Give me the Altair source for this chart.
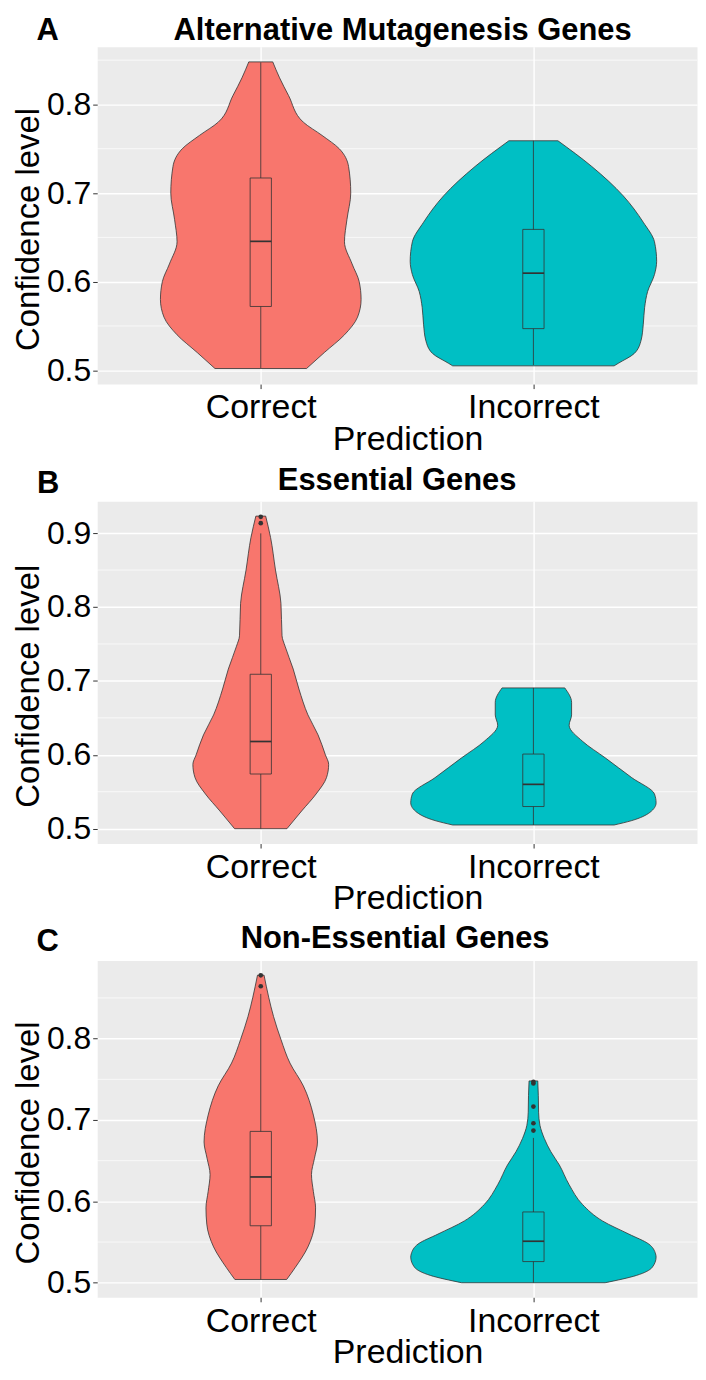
import altair as alt
import pandas as pd

# ---------------- data ----------------
CATEGORIES = ["Correct", "Incorrect"]
POSITIONS = [1, 2]
FILL_COLORS = ["#F8766D", "#00BFC4"]
LINE_COLOR = "#333333"

PANEL_LETTERS = ["A", "B", "C"]
PANEL_TITLES = ["Alternative Mutagenesis Genes", "Essential Genes", "Non-Essential Genes"]
Y_TITLE = "Confidence level"
X_TITLE = "Prediction"

Y_DOMAINS = [[0.4844, 0.865], [0.4799, 0.9432], [0.4821, 0.8960]]
Y_MAJOR = [[0.5, 0.6, 0.7, 0.8], [0.5, 0.6, 0.7, 0.8, 0.9], [0.5, 0.6, 0.7, 0.8]]
Y_MINOR = [[0.55, 0.65, 0.75, 0.85], [0.55, 0.65, 0.75, 0.85], [0.55, 0.65, 0.75, 0.85]]

# violin outlines: confidence level and half-width (in category units)
A_COR_CONF = [0.502, 0.520, 0.540, 0.560, 0.580, 0.600, 0.620, 0.645, 0.670, 0.700, 0.730, 0.750, 0.765, 0.780, 0.810, 0.830, 0.848]
A_COR_HW = [0.168, 0.233, 0.307, 0.355, 0.368, 0.361, 0.335, 0.307, 0.316, 0.330, 0.322, 0.288, 0.225, 0.156, 0.102, 0.069, 0.044]
A_INC_CONF = [0.505, 0.508, 0.519, 0.534, 0.552, 0.571, 0.589, 0.608, 0.623, 0.645, 0.667, 0.697, 0.730, 0.759]
A_INC_HW = [0.296, 0.312, 0.370, 0.395, 0.403, 0.408, 0.419, 0.444, 0.452, 0.444, 0.403, 0.329, 0.214, 0.090]

B_COR_CONF = [0.500, 0.524, 0.547, 0.569, 0.587, 0.600, 0.627, 0.654, 0.689, 0.716, 0.747, 0.761, 0.805, 0.850, 0.894, 0.923]
B_COR_HW = [0.096, 0.150, 0.203, 0.241, 0.249, 0.237, 0.210, 0.173, 0.140, 0.119, 0.089, 0.078, 0.074, 0.054, 0.036, 0.018]
B_INC_CONF = [0.505, 0.511, 0.522, 0.535, 0.547, 0.569, 0.596, 0.618, 0.640, 0.654, 0.671, 0.6905]
B_INC_HW = [0.296, 0.361, 0.427, 0.450, 0.444, 0.361, 0.263, 0.181, 0.131, 0.140, 0.140, 0.115]

C_COR_CONF = [0.504, 0.519, 0.544, 0.572, 0.592, 0.612, 0.633, 0.653, 0.673, 0.706, 0.742, 0.770, 0.799, 0.827, 0.851, 0.878]
C_COR_HW = [0.095, 0.127, 0.173, 0.198, 0.201, 0.193, 0.186, 0.197, 0.208, 0.193, 0.156, 0.107, 0.074, 0.047, 0.029, 0.012]
C_INC_CONF = [0.500, 0.509, 0.519, 0.5315, 0.5355, 0.5476, 0.5598, 0.576, 0.5962, 0.6205, 0.6448, 0.661, 0.6773, 0.6934, 0.7096, 0.7299, 0.748]
C_INC_HW = [0.263, 0.378, 0.436, 0.450, 0.448, 0.423, 0.350, 0.253, 0.180, 0.131, 0.095, 0.064, 0.040, 0.024, 0.019, 0.018, 0.016]

# box plot statistics per panel: [Correct, Incorrect]
Q1 = [[0.572, 0.547], [0.574, 0.530], [0.570, 0.526]]
MEDIAN = [[0.6455, 0.6096], [0.618, 0.560], [0.630, 0.551]]
Q3 = [[0.717, 0.659], [0.709, 0.601], [0.686, 0.587]]
WHISK_LO = [[0.5026, 0.5059], [0.500, 0.505], [0.504, 0.500]]
WHISK_HI = [[0.8475, 0.759], [0.8996, 0.6905], [0.855, 0.678]]
OUTLIERS = [
    [[], []],
    [[0.9135, 0.922], []],
    [[0.8644, 0.8778], [0.687, 0.696, 0.7165, 0.745, 0.747]],
]

VIOLINS = [
    [(A_COR_CONF, A_COR_HW), (A_INC_CONF, A_INC_HW)],
    [(B_COR_CONF, B_COR_HW), (B_INC_CONF, B_INC_HW)],
    [(C_COR_CONF, C_COR_HW), (C_INC_CONF, C_INC_HW)],
]

# ---------------- layout (styles, not data) ----------------
FONT = "Liberation Sans"
PLOT_W = 602
PLOT_H = [338.5, 343.6, 338.0]
SPACING = 117
BOX_HW = 0.039
TITLE_DX = [306.5, 301, 299]
TITLE_DY = [-7, -11.5, -13]
LETTER_DX = [-61, -60.3, -61]
LETTER_DY = [-7, -8.4, -10]

label_expr = " : ".join(
    f"datum.value == {p} ? '{c}'" for p, c in zip(POSITIONS[:-1], CATEGORIES[:-1])
) + f" : '{CATEGORIES[-1]}'"

color_scale = alt.Scale(domain=CATEGORIES, range=FILL_COLORS)
x_scale = alt.Scale(domain=[0.4, 2.6], nice=False, zero=False)


def panel(i):
    h = PLOT_H[i]
    y_scale = alt.Scale(domain=Y_DOMAINS[i], nice=False, zero=False)

    y_axis = alt.Axis(
        values=Y_MAJOR[i], format=".1f", title=Y_TITLE,
        grid=True, gridColor="white", gridWidth=1.4,
        domain=False, ticks=True, tickColor=LINE_COLOR, tickSize=4.5, tickWidth=1,
        labelFontSize=32, labelColor="black", labelPadding=2, labelFont=FONT,
        labelOverlap=False,
        titleFontSize=33, titleFontWeight="normal", titleColor="black", titleFont=FONT,
        titleX=-58.5, titleY=h / 2 + 13.5, titleBaseline="alphabetic", titleAlign="center",
        titleAngle=270,
    )
    x_axis = alt.Axis(
        values=POSITIONS, labelExpr=label_expr, title=X_TITLE,
        grid=True, gridColor="white", gridWidth=1.4,
        domain=False, ticks=True, tickColor=LINE_COLOR, tickSize=4.5, tickWidth=1,
        labelFontSize=34, labelColor="black", labelPadding=29.5, labelFont=FONT,
        labelBaseline="alphabetic", labelFlush=False, labelOverlap=False,
        titleFontSize=34, titleFontWeight="normal", titleColor="black", titleFont=FONT,
        titleX=311.5, titleY=65.5, titleBaseline="alphabetic", titleAlign="center",
    )

    def X(field):
        return alt.X(field, scale=x_scale, axis=x_axis, stack=False)

    def Y(field):
        return alt.Y(field, scale=y_scale, axis=y_axis)

    rows = []
    for cat, pos, (conf, hw) in zip(CATEGORIES, POSITIONS, VIOLINS[i]):
        for c, w in zip(conf, hw):
            rows.append({"pred": cat, "conf": c, "lo": pos - w, "hi": pos + w})
    vdf = pd.DataFrame(rows)

    bdf = pd.DataFrame({
        "pred": CATEGORIES,
        "pos": POSITIONS,
        "blo": [p - BOX_HW for p in POSITIONS],
        "bhi": [p + BOX_HW for p in POSITIONS],
        "q1": Q1[i], "med": MEDIAN[i], "q3": Q3[i],
        "wlo": WHISK_LO[i], "whi": WHISK_HI[i],
    })

    orows = []
    for cat, pos, vals in zip(CATEGORIES, POSITIONS, OUTLIERS[i]):
        for v in vals:
            orows.append({"pred": cat, "pos": pos, "val": v})
    odf = pd.DataFrame(orows, columns=["pred", "pos", "val"])

    minor = alt.Chart(pd.DataFrame({"v": Y_MINOR[i]})).mark_rule(
        color="white", strokeWidth=0.7
    ).encode(y=Y("v:Q"))

    violins = alt.Chart(vdf).mark_area(
        orient="horizontal", interpolate="monotone", stroke=LINE_COLOR,
        strokeWidth=0.8, opacity=1
    ).encode(
        y=Y("conf:Q"),
        x=X("lo:Q"),
        x2="hi:Q",
        color=alt.Color("pred:N", scale=color_scale, legend=None),
    )

    whiskers = alt.Chart(bdf).mark_rule(color=LINE_COLOR, strokeWidth=0.8).encode(
        x=X("pos:Q"), y=Y("wlo:Q"), y2="whi:Q",
    )

    boxes = alt.Chart(bdf).mark_rect(stroke=LINE_COLOR, strokeWidth=0.8, opacity=1).encode(
        x=X("blo:Q"), x2="bhi:Q", y=Y("q1:Q"), y2="q3:Q",
        color=alt.Color("pred:N", scale=color_scale, legend=None),
    )

    medians = alt.Chart(bdf).mark_rule(color=LINE_COLOR, strokeWidth=1.7).encode(
        x=X("blo:Q"), x2="bhi:Q", y=Y("med:Q"),
    )

    layers = [minor, violins, whiskers, boxes, medians]
    if len(odf):
        points = alt.Chart(odf).mark_circle(color=LINE_COLOR, size=22, opacity=1).encode(
            x=X("pos:Q"), y=Y("val:Q"),
        )
        layers.append(points)

    title = alt.Chart(pd.DataFrame({"t": [PANEL_TITLES[i]]})).mark_text(
        font=FONT, fontSize=31, fontWeight="bold", color="black",
        align="center", baseline="alphabetic"
    ).encode(text="t:N", x=alt.value(TITLE_DX[i]), y=alt.value(TITLE_DY[i]))

    letter = alt.Chart(pd.DataFrame({"t": [PANEL_LETTERS[i]]})).mark_text(
        font=FONT, fontSize=31, fontWeight="bold", color="black",
        align="left", baseline="alphabetic"
    ).encode(text="t:N", x=alt.value(LETTER_DX[i]), y=alt.value(LETTER_DY[i]))

    layers += [title, letter]
    return alt.layer(*layers).properties(width=PLOT_W, height=h)


chart = alt.vconcat(panel(0), panel(1), panel(2), spacing=SPACING, bounds="flush").properties(
    padding={"left": 4.5, "top": 3.5, "right": 0, "bottom": 1}
).configure(font=FONT).configure_view(fill="#EBEBEB", stroke="transparent")

chart.save("out.html", embed_options={"renderer": "svg", "actions": False})
